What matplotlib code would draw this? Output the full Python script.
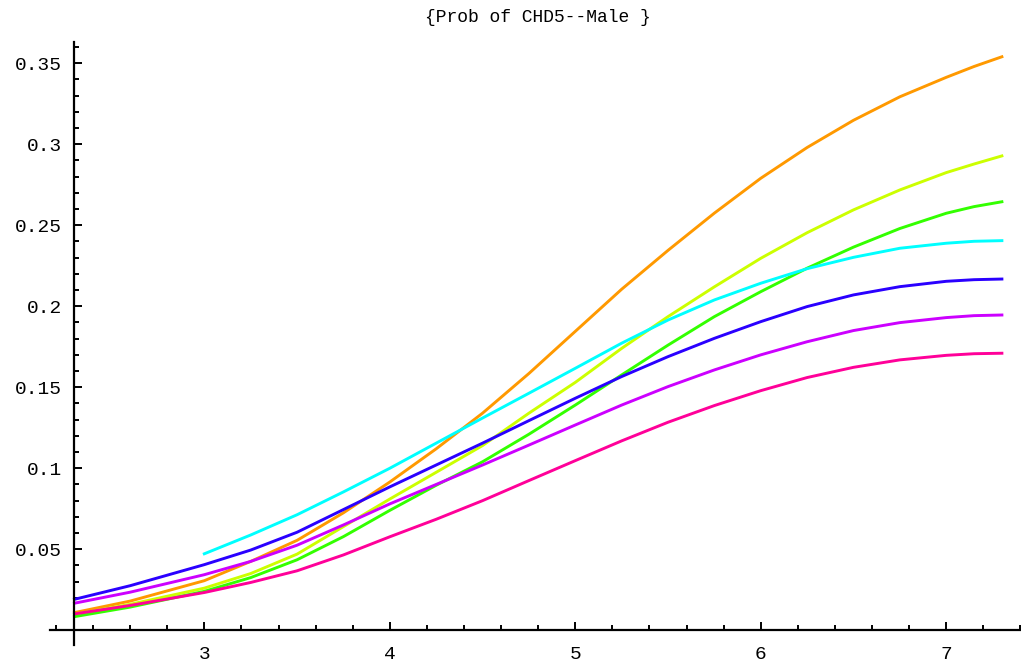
import matplotlib.pyplot as plt
from matplotlib.ticker import FixedLocator

# sample points along the horizontal axis
x = [2.3, 2.6, 3.0, 3.25, 3.5, 3.75, 4.0, 4.25, 4.5, 4.75, 5.0,
     5.25, 5.5, 5.75, 6.0, 6.25, 6.5, 6.75, 7.0, 7.15, 7.3]
x_cyan = x[2:]  # cyan series begins at 3

# probabilities for each curve
orange = [0.0109, 0.0180, 0.0306, 0.0425, 0.0555, 0.0725, 0.0915, 0.112, 0.134, 0.1585, 0.1845,
          0.2105, 0.2345, 0.2575, 0.2790, 0.2980, 0.3148, 0.3293, 0.3413, 0.348, 0.354]
yellow = [0.0098, 0.0160, 0.026, 0.035, 0.047, 0.064, 0.081, 0.0975, 0.114, 0.134, 0.153,
          0.174, 0.1936, 0.212, 0.2296, 0.2454, 0.2595, 0.2718, 0.2825, 0.2878, 0.2928]
green = [0.0084, 0.0143, 0.024, 0.0325, 0.0435, 0.0578, 0.074, 0.0895, 0.104, 0.121, 0.139,
         0.1576, 0.176, 0.1936, 0.209, 0.2235, 0.2365, 0.248, 0.2574, 0.2615, 0.2645]
cyan = [0.0472, 0.0588, 0.0713, 0.0854, 0.100, 0.1155, 0.131, 0.1463, 0.1617,
        0.1772, 0.1915, 0.2039, 0.2142, 0.2232, 0.2302, 0.2358, 0.2389, 0.2401, 0.2405]
blue = [0.0191, 0.0275, 0.0405, 0.0495, 0.0605, 0.0745, 0.0885, 0.102, 0.1155, 0.1294, 0.1432,
        0.1566, 0.1689, 0.1802, 0.1905, 0.1998, 0.207, 0.2121, 0.2154, 0.2164, 0.2168]
purple = [0.0167, 0.0235, 0.0343, 0.0425, 0.0525, 0.065, 0.078, 0.090, 0.102, 0.1143, 0.1267,
          0.139, 0.1504, 0.1607, 0.170, 0.1781, 0.185, 0.1899, 0.193, 0.1942, 0.1946]
pink = [0.0101, 0.0153, 0.0233, 0.0295, 0.0367, 0.0465, 0.0577, 0.0685, 0.080, 0.0924, 0.1047,
        0.1169, 0.1284, 0.1387, 0.1479, 0.156, 0.1623, 0.1669, 0.1697, 0.1707, 0.171]

plt.rcParams['font.family'] = ['Liberation Mono', 'DejaVu Sans Mono']

fig = plt.figure(figsize=(10.21, 6.65), dpi=100)
W, H = 1021, 665
# axes box in pixels: left 50, right 1021, top 41.7, bottom 645
ax = fig.add_axes([50 / W, 1 - 645 / H, 971 / W, (645 - 41.7) / H])

lw = 2.1
ax.plot(x, orange, color='#ff9900', lw=lw)
ax.plot(x, yellow, color='#ccff00', lw=lw)
ax.plot(x, green, color='#33ff00', lw=lw)
ax.plot(x_cyan, cyan, color='#00ffff', lw=lw)
ax.plot(x, blue, color='#2a00ff', lw=lw)
ax.plot(x, purple, color='#cc00ff', lw=lw)
ax.plot(x, pink, color='#ff0099', lw=lw)

ax.set_xlim(2.168, 7.403)
ax.set_ylim(-0.0091, 0.3633)

# axes cross at (2.3, 0)
for s in ['top', 'right']:
    ax.spines[s].set_visible(False)
ax.spines['left'].set_position(('data', 2.3))
ax.spines['bottom'].set_position(('data', 0))
for s in ['left', 'bottom']:
    ax.spines[s].set_linewidth(1.6)

xmaj = [3, 4, 5, 6, 7]
ymaj = [0.05, 0.1, 0.15, 0.2, 0.25, 0.3, 0.35]
ax.xaxis.set_major_locator(FixedLocator(xmaj))
ax.xaxis.set_minor_locator(FixedLocator([round(2.2 + 0.2 * i, 1) for i in range(27)
                                         if round(2.2 + 0.2 * i, 1) not in xmaj]))
ax.yaxis.set_major_locator(FixedLocator(ymaj))
ax.yaxis.set_minor_locator(FixedLocator([i / 100 for i in range(1, 37) if i % 5 != 0]))
ax.set_xticklabels(['3', '4', '5', '6', '7'])
ax.set_yticklabels(['0.05', '0.1', '0.15', '0.2', '0.25', '0.3', '0.35'])

ax.tick_params(which='both', direction='in', width=1.4, colors='black', labelsize=14)
ax.tick_params(which='major', length=5.5)
ax.tick_params(which='minor', length=3.8)
ax.tick_params(axis='y', which='major', pad=9)
ax.tick_params(axis='x', which='major', pad=11)

fig.text(538 / W, 1 - 18 / H, '{Prob of CHD5--Male }', ha='center', va='center', fontsize=13)

fig.savefig('out.png', dpi=100)
